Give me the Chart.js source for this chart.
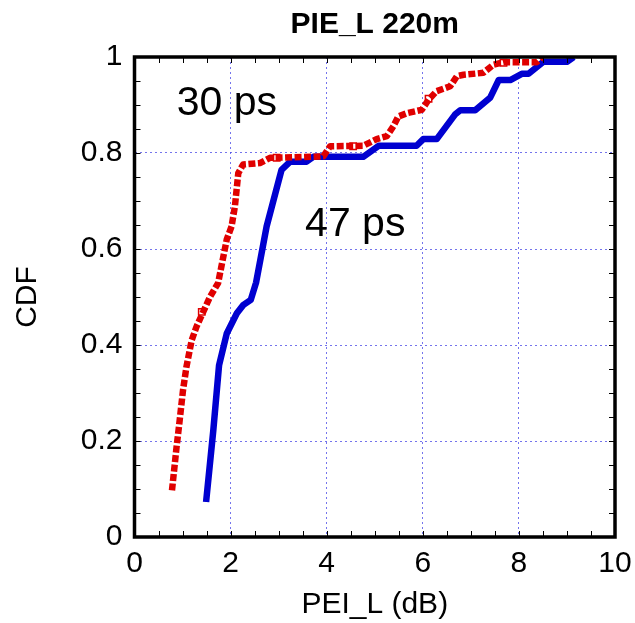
<!DOCTYPE html>
<html>
<head>
<meta charset="utf-8">
<script src="https://cdn.jsdelivr.net/npm/chart.js@4.4.1/dist/chart.umd.min.js"></script>
<style>
    html, body { margin: 0; padding: 0; background: #fff; }
    #wrap { width: 635px; height: 623px; }
</style>
</head>
<body>
<div id="wrap"><canvas id="cdf"></canvas></div>
<script>
// 30 ps curve (red, dashed)
const redX = [0.78, 0.875, 0.94, 1.01, 1.08, 1.19, 1.29, 1.43, 1.57, 1.74, 1.92, 2.02, 2.09, 2.16, 2.26, 2.61, 2.82, 2.96, 3.93, 4.07, 4.76, 5.04, 5.25, 5.39, 5.49, 5.67, 5.98, 6.12, 6.29, 6.57, 6.71, 6.85, 7.26, 7.47, 7.68, 8.37, 8.48];
const redY = [0.097, 0.187, 0.243, 0.306, 0.354, 0.41, 0.438, 0.469, 0.5, 0.529, 0.62, 0.647, 0.689, 0.758, 0.776, 0.779, 0.79, 0.79, 0.793, 0.814, 0.815, 0.829, 0.835, 0.856, 0.876, 0.883, 0.89, 0.911, 0.929, 0.939, 0.96, 0.963, 0.967, 0.984, 0.989, 0.989, 1.0];

// open square markers on the red curve
const markX = [1.40, 2.96, 4.55, 6.12, 7.68];
const markY = [0.469, 0.79, 0.814, 0.913, 0.988];

// 47 ps curve (blue, solid)
const blueX = [1.49, 1.64, 1.76, 1.92, 2.13, 2.26, 2.42, 2.53, 2.75, 3.06, 3.24, 3.58, 3.72, 4.76, 5.08, 5.87, 6.01, 6.29, 6.67, 6.78, 7.09, 7.40, 7.58, 7.82, 8.06, 8.20, 8.51, 9.0, 9.14];
const blueY = [0.073, 0.222, 0.358, 0.424, 0.466, 0.483, 0.494, 0.53, 0.647, 0.765, 0.782, 0.782, 0.792, 0.792, 0.815, 0.815, 0.829, 0.829, 0.88, 0.889, 0.889, 0.915, 0.952, 0.952, 0.965, 0.965, 0.99, 0.99, 1.0];

const xTicks = [0, 2, 4, 6, 8, 10];
const yTicks = [0, 0.2, 0.4, 0.6, 0.8, 1];

const titleText = 'PIE_L 220m';
const xLabel = 'PEI_L (dB)';
const yLabel = 'CDF';
const notes = [
    { text: '30 ps', x: 0.88, y: 0.88 },
    { text: '47 ps', x: 3.55, y: 0.628 },
];

const FONT = "'Liberation Sans', Arial, sans-serif";
const gridBlue = 'rgba(70, 70, 230, 0.75)';

function toPoints(xs, ys) {
    return xs.map(function (x, i) {
        return { x: x, y: ys[i] };
    });
}

const framePlugin = {
    id: 'frame',
    afterDatasetsDraw(chart) {
        const ctx = chart.ctx;
        const area = chart.chartArea;
        const xs = chart.scales.x;
        const ys = chart.scales.y;
        ctx.save();
        // minor ticks, inward on all four sides
        ctx.strokeStyle = '#000';
        ctx.lineWidth = 1;
        ctx.beginPath();
        for (let v = 0.5; v < 10; v += 0.5) {
            const px = Math.round(xs.getPixelForValue(v)) + 0.5;
            ctx.moveTo(px, area.bottom);
            ctx.lineTo(px, area.bottom - 6);
            ctx.moveTo(px, area.top);
            ctx.lineTo(px, area.top + 6);
        }
        for (let i = 1; i < 20; i++) {
            const py = Math.round(ys.getPixelForValue(i * 0.05)) + 0.5;
            ctx.moveTo(area.left, py);
            ctx.lineTo(area.left + 6, py);
            ctx.moveTo(area.right, py);
            ctx.lineTo(area.right - 6, py);
        }
        ctx.stroke();
        // heavy frame
        ctx.lineWidth = 3.5;
        ctx.strokeRect(area.left, area.top, area.right - area.left, area.bottom - area.top);
        // in-plot labels
        ctx.fillStyle = '#000';
        ctx.font = '41px ' + FONT;
        ctx.textBaseline = 'alphabetic';
        ctx.textAlign = 'left';
        notes.forEach(function (n) {
            ctx.fillText(n.text, xs.getPixelForValue(n.x), ys.getPixelForValue(n.y));
        });
        // title, centred over the plot area
        ctx.font = 'bold 30px ' + FONT;
        ctx.textAlign = 'center';
        ctx.fillText(titleText, (area.left + area.right) / 2, 33);
        ctx.restore();
    },
};

new Chart(document.getElementById('cdf'), {
    type: 'scatter',
    data: {
        datasets: [
            {
                label: '47 ps',
                data: toPoints(blueX, blueY),
                showLine: true,
                borderColor: '#0000d0',
                borderWidth: 6.5,
                borderJoinStyle: 'round',
                borderCapStyle: 'butt',
                pointRadius: 0,
                order: 2,
            },
            {
                label: '30 ps',
                data: toPoints(redX, redY),
                showLine: true,
                borderColor: '#e00000',
                borderWidth: 6.5,
                borderDash: [7, 2.5],
                borderCapStyle: 'butt',
                borderJoinStyle: 'round',
                pointRadius: 0,
                order: 1,
            },
            {
                label: 'markers',
                data: toPoints(markX, markY),
                showLine: false,
                pointStyle: 'rect',
                pointRadius: 4.5,
                pointBorderWidth: 1.5,
                pointBorderColor: '#e00000',
                pointBackgroundColor: 'rgba(0,0,0,0)',
                order: 0,
            },
        ],
    },
    options: {
        responsive: true,
        maintainAspectRatio: false,
        animation: false,
        layout: { padding: { left: 0, right: 20, top: 57, bottom: 0 } },
        plugins: {
            legend: { display: false },
            tooltip: { enabled: false },
            title: { display: false },
        },
        scales: {
            x: {
                type: 'linear',
                min: 0,
                max: 10,
                afterBuildTicks: function (scale) {
                    scale.ticks = xTicks.map(function (v) { return { value: v }; });
                },
                afterFit: function (scale) {
                    scale.height = 86;
                    scale.paddingLeft = 0;
                    scale.paddingRight = 0;
                },
                ticks: {
                    color: '#000',
                    font: { family: FONT, size: 30 },
                    padding: 9,
                },
                grid: { color: gridBlue, lineWidth: 1, drawTicks: false },
                border: { display: false, dash: [2, 3] },
                title: {
                    display: true,
                    text: xLabel,
                    color: '#000',
                    font: { family: FONT, size: 30, lineHeight: 1.2 },
                    padding: { top: 0, bottom: 0 },
                },
            },
            y: {
                type: 'linear',
                min: 0,
                max: 1,
                afterBuildTicks: function (scale) {
                    scale.ticks = yTicks.map(function (v) { return { value: v }; });
                },
                afterFit: function (scale) {
                    scale.width = 134.5;
                    scale.paddingTop = 0;
                    scale.paddingBottom = 0;
                },
                ticks: {
                    color: '#000',
                    font: { family: FONT, size: 30 },
                    padding: 12,
                    callback: function (v) { return String(v); },
                },
                grid: { color: gridBlue, lineWidth: 1, drawTicks: false },
                border: { display: false, dash: [2, 3] },
                title: {
                    display: true,
                    text: yLabel,
                    color: '#000',
                    font: { family: FONT, size: 30, lineHeight: 1.2 },
                    padding: { top: 10, bottom: 0 },
                },
            },
        },
    },
    plugins: [framePlugin],
});
</script>
</body>
</html>
